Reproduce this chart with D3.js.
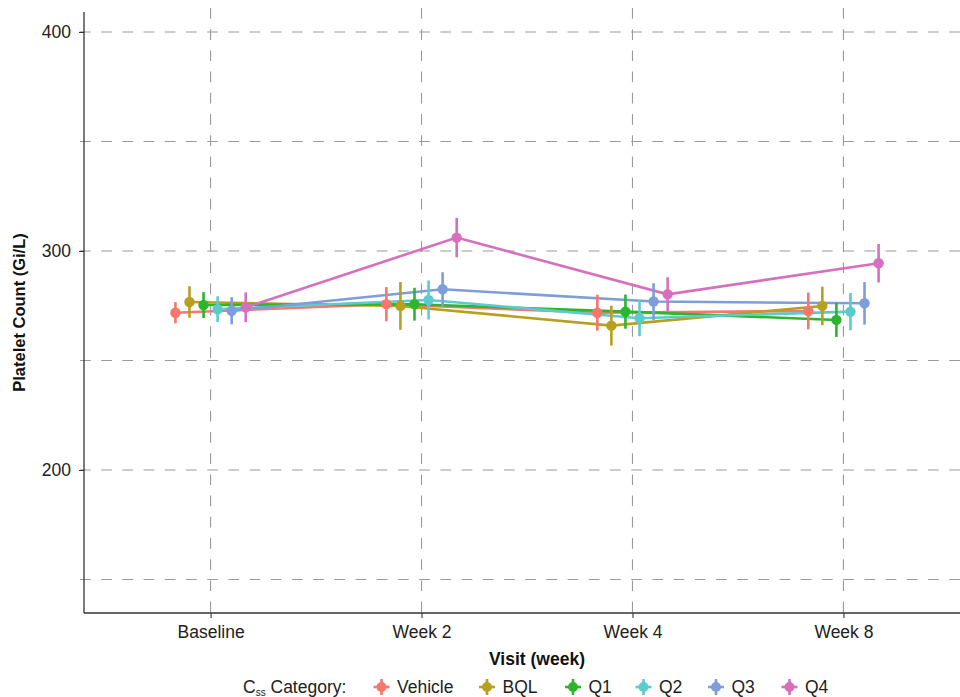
<!DOCTYPE html>
<html>
<head>
<meta charset="utf-8">
<script src="https://cdn.jsdelivr.net/npm/d3@7"></script>
<style>
  html, body { margin: 0; padding: 0; background: #fff; }
  svg { display: block; font-family: "Liberation Sans", Arial, Helvetica, sans-serif; }
</style>
</head>
<body>
<svg id="chart" width="960" height="697"></svg>
<script>
// Visits on the x axis
const visits = ["Baseline", "Week 2", "Week 4", "Week 8"];

// Exposure categories and their colours
const groups = ["Vehicle", "BQL", "Q1", "Q2", "Q3", "Q4"];
const groupColors = ["#F8766D", "#B79F1F", "#2DB52D", "#5CCBCE", "#7E9DD9", "#D670BE"];

// Mean platelet count (Gi/L) per category, one value per visit
const meanVehicle = [271.8, 275.7, 271.8, 272.6];
const meanBQL     = [276.7, 274.9, 265.9, 274.9];
const meanQ1      = [275.3, 275.7, 272.3, 268.5];
const meanQ2      = [273.4, 277.6, 269.3, 272.3];
const meanQ3      = [272.7, 282.5, 276.9, 276.1];
const meanQ4      = [274.3, 306.1, 280.2, 294.4];

// Half-width of the error bar (Gi/L) per category and visit
const errVehicle = [4.8, 7.8, 8.2, 8.4];
const errBQL     = [7.2, 10.9, 9.1, 8.8];
const errQ1      = [5.9, 7.5, 7.8, 7.8];
const errQ2      = [5.9, 8.9, 8.2, 8.5];
const errQ3      = [6.2, 7.8, 8.4, 9.7];
const errQ4      = [6.8, 9.0, 7.8, 8.8];

// Axis ticks
const yMajorTicks = [200, 300, 400];
const yGridTicks = [150, 200, 250, 300, 350, 400];

const means = [meanVehicle, meanBQL, meanQ1, meanQ2, meanQ3, meanQ4];
const errs = [errVehicle, errBQL, errQ1, errQ2, errQ3, errQ4];

const series = groups.map((g, gi) => ({
  group: g,
  values: visits.map((v, vi) => ({ visit: v, group: g, mean: means[gi][vi], err: errs[gi][vi] }))
}));

const svg = d3.select("#chart");
const panel = { left: 84, top: 12, bottom: 613 };
const textColor = "#222";

// Scales
const x = d3.scalePoint().domain(visits).range([panel.left, panel.left + 886]).padding(0.6);
const dodge = d3.scalePoint().domain(groups)
  .range([-x.step() * 0.2, x.step() * 0.2]).padding(0.5);
const y = d3.scaleLinear().domain([134.7, 409.1]).range([panel.bottom, panel.top]);
const color = d3.scaleOrdinal().domain(groups).range(groupColors);

const px = d => x(d.visit) + dodge(d.group);

// Grid lines (dashed)
const grid = svg.append("g").attr("stroke", "#9a9a9a").attr("stroke-width", 1.1)
  .attr("stroke-dasharray", "10.7,10.5");
grid.selectAll("line.h").data(yGridTicks).join("line")
  .attr("class", "h")
  .attr("x1", panel.left - 4).attr("x2", 960)
  .attr("y1", d => y(d)).attr("y2", d => y(d));
grid.selectAll("line.v").data(visits).join("line")
  .attr("class", "v")
  .attr("x1", d => x(d)).attr("x2", d => x(d))
  .attr("y1", panel.top - 4).attr("y2", panel.bottom);

// Axes
const yAxis = d3.axisLeft(y).tickValues(yMajorTicks).tickSize(5).tickPadding(8);
const xAxis = d3.axisBottom(x).tickSize(5).tickPadding(8);

const gy = svg.append("g").attr("transform", `translate(${panel.left},0)`).call(yAxis);
const gx = svg.append("g").attr("transform", `translate(0,${panel.bottom})`).call(xAxis);
[gx, gy].forEach(g => {
  g.select(".domain").remove();
  g.selectAll(".tick line").attr("stroke", "#333").attr("stroke-width", 1.1);
  g.selectAll(".tick text").attr("fill", textColor).attr("font-size", 17.5)
    .attr("font-family", "Liberation Sans, Arial, sans-serif");
});
svg.append("line").attr("x1", panel.left).attr("x2", panel.left)
  .attr("y1", panel.top).attr("y2", panel.bottom)
  .attr("stroke", "#333").attr("stroke-width", 1.3);
svg.append("line").attr("x1", panel.left).attr("x2", 960)
  .attr("y1", panel.bottom).attr("y2", panel.bottom)
  .attr("stroke", "#333").attr("stroke-width", 1.3);

// Axis titles
svg.append("text").attr("x", 537).attr("y", 665).attr("text-anchor", "middle")
  .attr("font-size", 17.5).attr("font-weight", "bold").attr("fill", "#111")
  .text("Visit (week)");
svg.append("text").attr("transform", `translate(25,${(panel.top + panel.bottom) / 2}) rotate(-90)`)
  .attr("text-anchor", "middle")
  .attr("font-size", 16.5).attr("font-weight", "bold").attr("fill", "#111")
  .text("Platelet Count (Gi/L)");

// Mean lines per category
const line = d3.line().x(d => px(d)).y(d => y(d.mean));
svg.append("g").selectAll("path").data(series).join("path")
  .attr("fill", "none")
  .attr("stroke", d => color(d.group))
  .attr("stroke-width", 2.6)
  .attr("d", d => line(d.values));

// Error bars
const allPts = series.flatMap(s => s.values);
svg.append("g").selectAll("line").data(allPts).join("line")
  .attr("x1", d => px(d)).attr("x2", d => px(d))
  .attr("y1", d => y(d.mean - d.err)).attr("y2", d => y(d.mean + d.err))
  .attr("stroke", d => color(d.group))
  .attr("stroke-width", 2.6);

// Mean points
svg.append("g").selectAll("circle").data(allPts).join("circle")
  .attr("cx", d => px(d)).attr("cy", d => y(d.mean))
  .attr("r", 5.2)
  .attr("fill", d => color(d.group));

// Legend
const legendY = 687;
const lt = svg.append("text").attr("x", 243).attr("y", legendY + 6)
  .attr("font-size", 17.5).attr("fill", textColor);
lt.append("tspan").text("C");
lt.append("tspan").attr("font-size", 10).attr("dy", 3).text("ss");
lt.append("tspan").attr("dy", -3).text(" Category:");

const keyX = [381.5, 487, 573, 643.5, 716, 789.5];
const legend = svg.append("g").selectAll("g").data(groups).join("g")
  .attr("transform", (d, i) => `translate(${keyX[i]},${legendY})`);
legend.append("line").attr("x1", -8).attr("x2", 8).attr("y1", 0).attr("y2", 0)
  .attr("stroke", d => color(d)).attr("stroke-width", 2.6);
legend.append("line").attr("x1", 0).attr("x2", 0).attr("y1", -8).attr("y2", 8)
  .attr("stroke", d => color(d)).attr("stroke-width", 2.6);
legend.append("circle").attr("r", 5).attr("fill", d => color(d));
legend.append("text").attr("x", 15.5).attr("y", 6)
  .attr("font-size", 17.5).attr("fill", textColor).text(d => d);
</script>
</body>
</html>
